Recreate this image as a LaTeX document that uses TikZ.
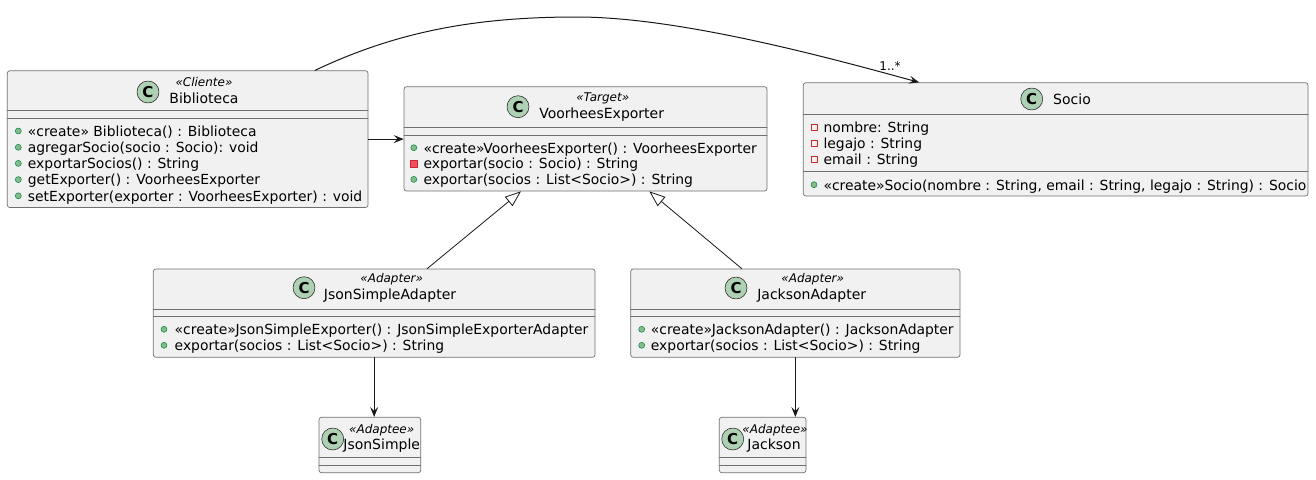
\documentclass[tikz,border=0pt]{standalone}
\usepackage{fontspec}
\setmainfont{DejaVu Sans}
\usetikzlibrary{fit,arrows.meta}

\definecolor{umlline}{HTML}{181818}
\definecolor{umlborder}{HTML}{707070}
\definecolor{umlfill}{HTML}{F1F1F1}
\definecolor{classgreen}{HTML}{ADD1B2}
\definecolor{pubfill}{HTML}{84BE84}
\definecolor{publine}{HTML}{038048}
\definecolor{privfill}{HTML}{F24D5C}
\definecolor{privline}{HTML}{C82930}

\tikzset{
  classbox/.style={draw=umlborder, fill=umlfill, line width=0.7pt, rounded corners=2.5pt, inner sep=0pt},
  sepline/.style={draw=umlborder, line width=0.7pt},
  cicon/.style={circle, draw=umlline, fill=classgreen, line width=0.5pt, minimum size=22pt, inner sep=0pt, font=\fontsize{15}{15}\selectfont\bfseries},
  cname/.style={anchor=base, inner sep=0pt, font=\fontsize{14}{16}\selectfont},
  stereo/.style={anchor=base, inner sep=0pt, font=\fontsize{12}{14}\selectfont\itshape},
  member/.style={anchor=base west, inner sep=0pt, font=\fontsize{13.9}{16}\selectfont},
  pub/.style={circle, draw=publine, fill=pubfill, line width=0.5pt, minimum size=6pt, inner sep=0pt},
  priv/.style={rectangle, draw=privline, fill=privfill, line width=0.5pt, minimum size=6.5pt, inner sep=0pt},
  privfield/.style={rectangle, draw=privline, fill=none, line width=0.8pt, minimum size=6pt, inner sep=0pt},
  assoc/.style={draw=umlline, line width=1pt, -{Stealth[length=10pt, width=8pt, inset=4pt]}},
  extends/.style={draw=umlline, line width=0.8pt, -{Triangle[open, length=16pt, width=12pt]}},
  mult/.style={anchor=base, inner sep=0pt, font=\fontsize{12}{14}\selectfont},
}

\begin{document}
\begin{tikzpicture}[x=1pt,y=-1pt,line cap=round,line join=round]
\useasboundingbox (0,0) rectangle (1316,479);

% Biblioteca
\node[classbox, fit={(7.3,70.7) (368,207.5)}] (bib) {};
\draw[sepline] (7.3,110.7) -- (368,110.7);
\draw[sepline] (7.3,118.3) -- (368,118.3);
\node[cicon] (bib c) at (148,92) {C};
\node[stereo] (bib st) at (204,86.7) {«Cliente»};
\node[cname] (bib n) at (204,103.3) {Biblioteca};
\node[pub] (bib i1) at (18.3,131) {};
\node[member] (bib m1) at (27.7,136.3) {«create» Biblioteca() : Biblioteca};
\node[pub] (bib i2) at (18.3,147.3) {};
\node[member] (bib m2) at (27.7,152.6) {agregarSocio(socio : Socio): void};
\node[pub] (bib i3) at (18.3,163.4) {};
\node[member] (bib m3) at (27.7,168.7) {exportarSocios() : String};
\node[pub] (bib i4) at (18.3,179.6) {};
\node[member] (bib m4) at (27.7,184.9) {getExporter() : VoorheesExporter};
\node[pub] (bib i5) at (18.3,195.8) {};
\node[member] (bib m5) at (27.7,201.1) {setExporter(exporter : VoorheesExporter) : void};

% VoorheesExporter
\node[classbox, fit={(404,86.7) (767,191)}] (vexp) {};
\draw[sepline] (404,127.7) -- (767,127.7);
\draw[sepline] (404,135.3) -- (767,135.3);
\node[cicon] (vexp c) at (518,106.7) {C};
\node[stereo] (vexp st) at (602.7,101.4) {«Target»};
\node[cname] (vexp n) at (601.7,118.3) {VoorheesExporter};
\node[pub] (vexp i1) at (413.8,147.7) {};
\node[member] (vexp m1) at (423.3,153) {«create»VoorheesExporter() : VoorheesExporter};
\node[priv] (vexp i2) at (413.8,163.5) {};
\node[member] (vexp m2) at (423.3,168.8) {exportar(socio : Socio) : String};
\node[pub] (vexp i3) at (413.8,179.4) {};
\node[member] (vexp m3) at (423.3,184.7) {exportar(socios : List<Socio>) : String};

% Socio
\node[classbox, fit={(803.3,82.7) (1308,196)}] (socio) {};
\draw[sepline] (803.3,114.3) -- (1308,114.3);
\draw[sepline] (803.3,171.3) -- (1308,171.3);
\node[cicon] (socio c) at (1031.7,99) {C};
\node[cname] (socio n) at (1072,104) {Socio};
\node[privfield] (socio i1) at (814,127) {};
\node[member] (socio m1) at (823.3,132.3) {nombre: String};
\node[privfield] (socio i2) at (814,143) {};
\node[member] (socio m2) at (823.3,148.3) {legajo : String};
\node[privfield] (socio i3) at (814,159) {};
\node[member] (socio m3) at (823.3,164.3) {email : String};
\node[pub] (socio i4) at (814,184.7) {};
\node[member] (socio m4) at (823.3,190) {«create»Socio(nombre : String, email : String, legajo : String) : Socio};

% JsonSimpleAdapter
\node[classbox, fit={(153.3,269) (595,357.3)}] (jsa) {};
\draw[sepline] (153.3,309.3) -- (595,309.3);
\draw[sepline] (153.3,316.3) -- (595,316.3);
\node[cicon] (jsa c) at (304,287.7) {C};
\node[stereo] (jsa st) at (391.7,282.4) {«Adapter»};
\node[cname] (jsa n) at (390,299.5) {JsonSimpleAdapter};
\node[pub] (jsa i1) at (164,329.3) {};
\node[member] (jsa m1) at (174.5,334.6) {«create»JsonSimpleExporter() : JsonSimpleExporterAdapter};
\node[pub] (jsa i2) at (164,345.3) {};
\node[member] (jsa m2) at (174.5,350.6) {exportar(socios : List<Socio>) : String};

% JacksonAdapter
\node[classbox, fit={(630.7,269) (960,357.3)}] (ja) {};
\draw[sepline] (630.7,309.7) -- (960,309.7);
\draw[sepline] (630.7,316.7) -- (960,316.7);
\node[cicon] (ja c) at (736,288) {C};
\node[stereo] (ja st) at (812.7,282.4) {«Adapter»};
\node[cname] (ja n) at (811.7,299.5) {JacksonAdapter};
\node[pub] (ja i1) at (641.7,329.3) {};
\node[member] (ja m1) at (650.7,334.6) {«create»JacksonAdapter() : JacksonAdapter};
\node[pub] (ja i2) at (641.7,345.3) {};
\node[member] (ja m2) at (650.7,350.6) {exportar(socios : List<Socio>) : String};

% JsonSimple
\node[classbox, fit={(319,417.3) (420.7,472.7)}] (js) {};
\draw[sepline] (319,457.7) -- (420.7,457.7);
\draw[sepline] (319,465) -- (420.7,465);
\node[cicon] (js c) at (332.7,439) {C};
\node[stereo] (js st) at (381.7,433.3) {«Adaptee»};
\node[cname] (js n) at (381.7,449.3) {JsonSimple};

% Jackson
\node[classbox, fit={(719.3,417.3) (806,472.7)}] (jk) {};
\draw[sepline] (719.3,457.7) -- (806,457.7);
\draw[sepline] (719.3,465) -- (806,465);
\node[cicon] (jk c) at (732.7,439) {C};
\node[stereo] (jk st) at (775,433.3) {«Adaptee»};
\node[cname] (jk n) at (774,449.3) {Jackson};

% connectors
\path
([xshift=127.4pt]bib.north) coordinate (bib out)
([xshift=-136.6pt]socio.north) coordinate (socio in)
;
\draw[assoc] (bib out) .. controls (400,30) and (480,17) .. (577,17)
  .. controls (680,17) and (830,58) .. (socio in);
\node[mult] (socio mult) at (890,70.5) {1..*};
\draw[assoc] (bib.east) -- (bib.east -| vexp.west);
\draw[extends] ([xshift=53pt]jsa.north) -- ([xshift=-64.5pt]vexp.south);
\draw[extends] ([xshift=-53.6pt]ja.north) -- ([xshift=63.8pt]vexp.south);
\draw[assoc] (jsa.south) -- (jsa.south |- js.north);
\draw[assoc] (ja.south) -- (ja.south |- jk.north);
\end{tikzpicture}
\end{document}
